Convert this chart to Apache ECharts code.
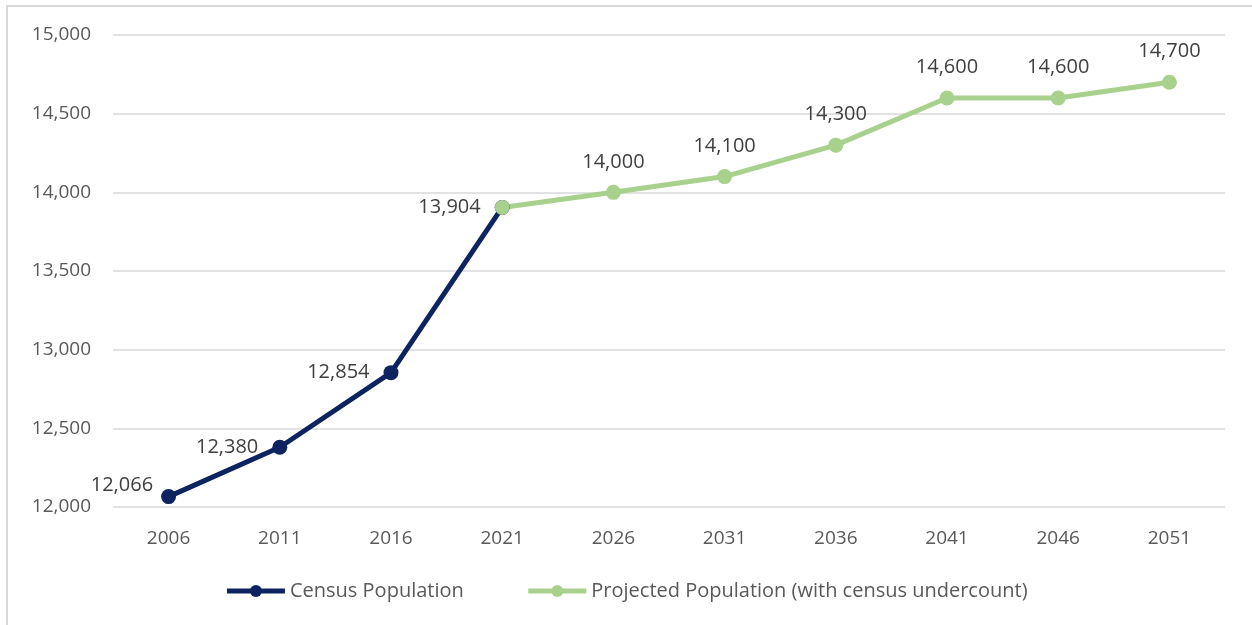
<!DOCTYPE html>
<html style="height: 100%">
<head>
    <meta charset="utf-8">
    <script src="https://cdn.jsdelivr.net/npm/echarts@6/dist/echarts.min.js"></script>
</head>
<body style="height: 100%; margin: 0; background: #fff">
    <div style="position:absolute; left:6px; top:5px; width:1260px; height:640px; border:2px solid #d9d9d9; box-sizing:border-box"></div>
    <div id="main" style="position:absolute; left:0; top:0; width:1252px; height:625px;"></div>
    <script type="text/javascript">
        var years = ['2006', '2011', '2016', '2021', '2026', '2031', '2036', '2041', '2046', '2051'];
        var census = [12066, 12380, 12854, 13904, '-', '-', '-', '-', '-', '-'];
        var projected = ['-', '-', '-', 13904, 14000, 14100, 14300, 14600, 14600, 14700];

        var font = 'Open Sans';
        var txt = '#595959';
        var fmt = function (v) { return Number(v).toLocaleString('en-US'); };

        var myChart = echarts.init(document.getElementById('main'));
        var option = {
            animation: false,
            textStyle: { fontFamily: font },
            grid: { left: 113, right: 27, top: 35, bottom: 118 },
            legend: {
                bottom: 19,
                left: 'center',
                itemWidth: 58,
                itemHeight: 15,
                itemGap: 62,
                lineStyle: { width: 5 },
                textStyle: { fontSize: 20, color: txt, fontFamily: font },
                data: ['Census Population', 'Projected Population (with census undercount)']
            },
            xAxis: {
                type: 'category',
                data: years,
                boundaryGap: true,
                axisLine: { show: false },
                axisTick: { show: false },
                axisLabel: { fontSize: 19, color: txt, margin: 22 }
            },
            yAxis: {
                type: 'value',
                min: 12000,
                max: 15000,
                interval: 500,
                axisLabel: { fontSize: 19, color: txt, margin: 22, formatter: fmt },
                splitLine: { lineStyle: { color: '#d9d9d9', width: 1.5 } }
            },
            series: [{
                name: 'Census Population',
                type: 'line',
                data: census,
                color: '#0d2461',
                symbol: 'circle',
                symbolSize: 15,
                lineStyle: { width: 5 },
                label: {
                    show: true,
                    position: 'left',
                    distance: 14,
                    fontSize: 20,
                    color: '#404040',
                    formatter: function (p) { return fmt(p.value); }
                },
                labelLayout: function (p) {
                    return p.dataIndex === 0 ? { dx: 6, dy: -11 } : {};
                }
            }, {
                name: 'Projected Population (with census undercount)',
                type: 'line',
                data: projected,
                color: '#a9d18e',
                symbol: 'circle',
                symbolSize: 15,
                lineStyle: { width: 5 },
                label: {
                    show: true,
                    position: 'top',
                    distance: 13,
                    fontSize: 20,
                    color: '#404040',
                    formatter: function (p) { return p.dataIndex === 3 ? '' : fmt(p.value); }
                }
            }]
        };
        myChart.setOption(option);
    </script>
</body>
</html>
